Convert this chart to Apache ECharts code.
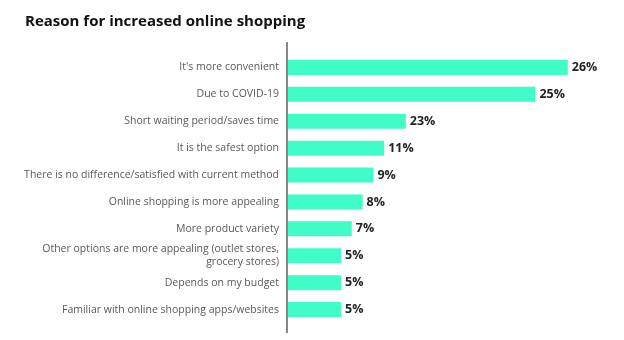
<!DOCTYPE html>
<html>
<head>
<meta charset="utf-8">
<script src="https://cdn.jsdelivr.net/npm/echarts@6/dist/echarts.min.js"></script>
<style>html,body{margin:0;padding:0;background:#fff;}#c{width:624px;height:340px;}</style>
</head>
<body>
<div id="c"></div>
<script>
var titleText = 'Reason for increased online shopping';
var categories = [
  "It's more convenient",
  'Due to COVID-19',
  'Short waiting period/saves time',
  'It is the safest option',
  'There is no difference/satisfied with current method',
  'Online shopping is more appealing',
  'More product variety',
  'Other options are more appealing (outlet stores,\ngrocery stores)',
  'Depends on my budget',
  'Familiar with online shopping apps/websites'
];
// bar lengths as drawn in the picture (percent)
var barValues = [26, 23, 11, 9, 8, 7, 6, 5, 5, 5];
// value labels as printed in the picture
var valueLabels = ['26%', '25%', '23%', '11%', '9%', '8%', '7%', '5%', '5%', '5%'];

var chart = echarts.init(document.getElementById('c'));
chart.setOption({
  animation: false,
  backgroundColor: '#ffffff',
  title: {
    text: titleText,
    left: 20, top: 9,
    textStyle: { fontFamily: 'Open Sans', fontWeight: 'bold', fontSize: 15, color: '#111' }
  },
  grid: { left: 287, top: 54, width: 324, height: 269, containLabel: false },
  xAxis: {
    type: 'value', min: 0, max: 30, show: false
  },
  yAxis: {
    type: 'category', inverse: true, data: categories,
    axisLine: { show: false },
    axisTick: { show: false },
    axisLabel: { margin: 8, fontFamily: 'Open Sans', fontSize: 10.5, color: '#595959', lineHeight: 13, align: 'right' }
  },
  graphic: [{
    type: 'line', shape: { x1: 287, y1: 42, x2: 287, y2: 333 },
    style: { stroke: '#888', lineWidth: 2 }, z: 10
  }],
  series: [{
    type: 'bar', data: barValues, barWidth: 15,
    itemStyle: { color: '#40fcc6' },
    label: {
      show: true, position: 'right', distance: 4,
      fontFamily: 'Open Sans', fontWeight: 'bold', fontSize: 12.5, color: '#222',
      formatter: function (p) { return valueLabels[p.dataIndex]; }
    }
  }]
});
</script>
</body>
</html>
